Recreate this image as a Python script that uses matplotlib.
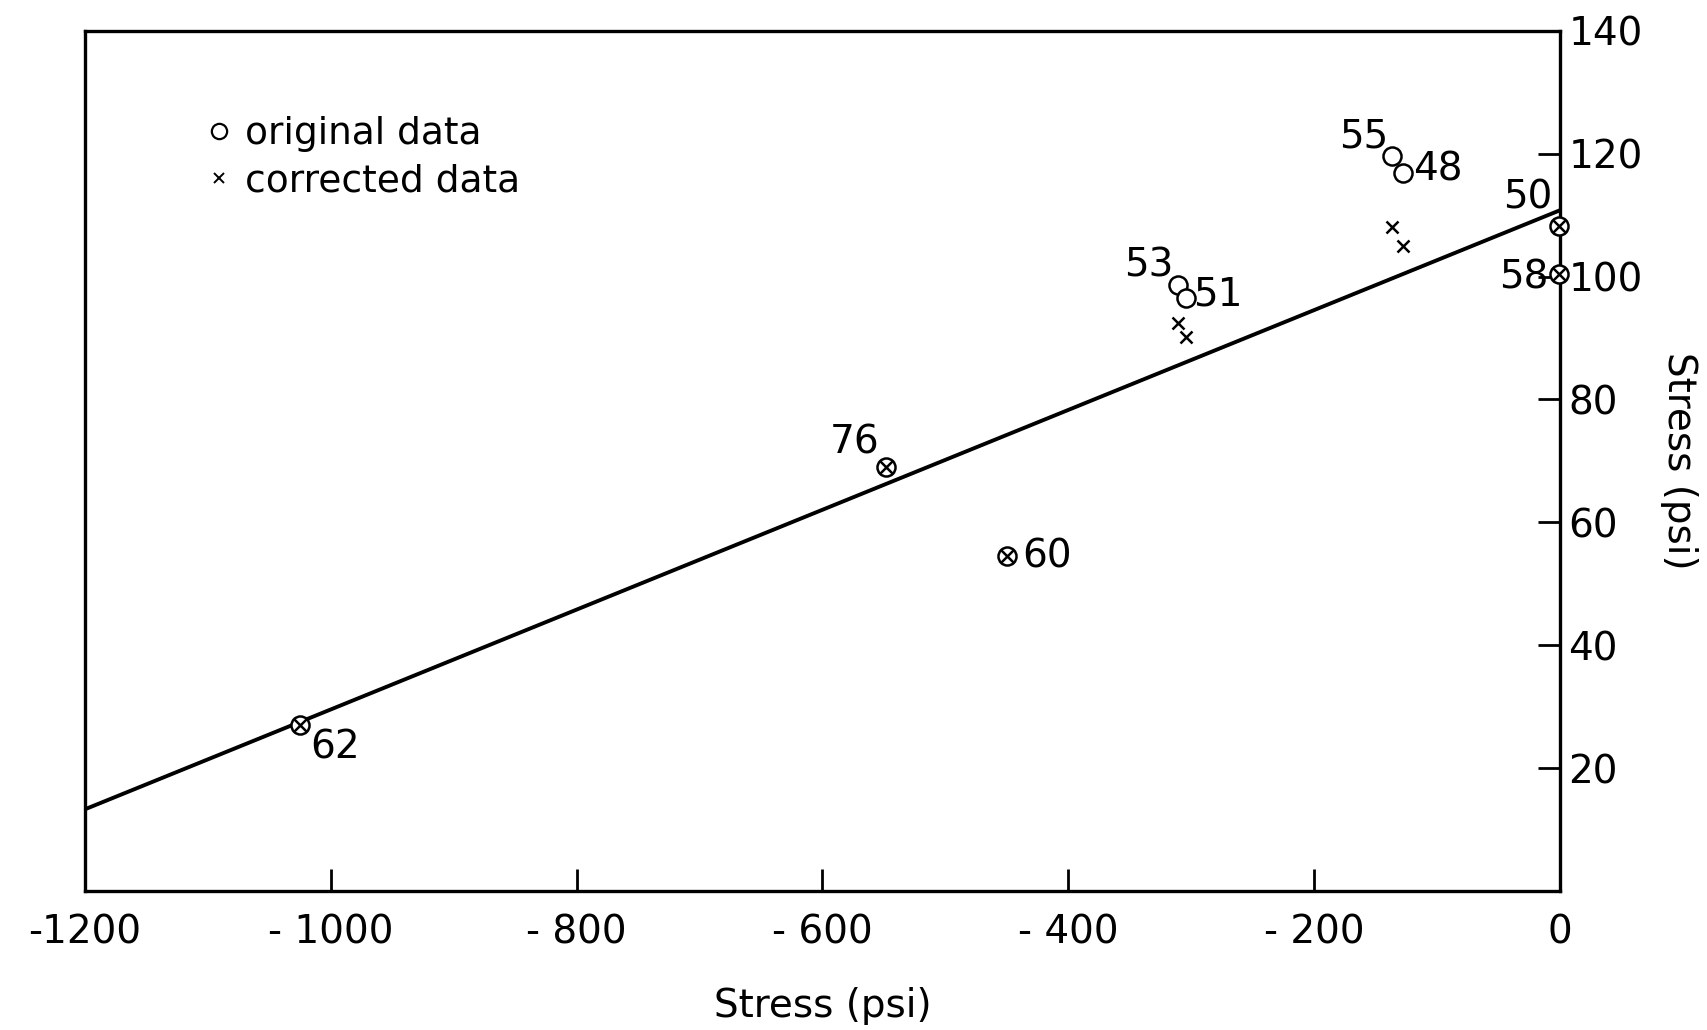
import numpy as np
import matplotlib.pyplot as plt
from matplotlib.lines import Line2D

plt.rcParams['font.family'] = ['DejaVu Sans']

# sample ids and stresses
labels = ['62', '76', '60', '53', '51', '55', '48', '50', '58']
stress_x = [-1025, -548, -450, -311, -304, -137, -128, -1, -1]
orig_y = [27, 69, 54.5, 98.6, 96.6, 119.6, 116.8, 108.3, 100.5]
corr_y = [27, 69, 54.5, 92.4, 90.1, 108.1, 105.0, 108.3, 100.5]

# fitted line end points
line_x = [-1200, 0]
line_y = [13.3, 110.8]

x_ticks = [-1200, -1000, -800, -600, -400, -200, 0]
x_ticklabels = ['-1200', '- 1000', '- 800', '- 600', '- 400', '- 200', '0']
y_ticks = [20, 40, 60, 80, 100, 120, 140]

# label offsets in points (layout only)
offsets = {'62': (25, -16), '76': (-23, 18), '60': (29, 0), '53': (-21, 14),
           '51': (23, 2), '55': (-20, 14), '48': (25, 3), '50': (-22, 20),
           '58': (-25, -3)}

fig = plt.figure(figsize=(17.08, 10.30), dpi=100)
ax = fig.add_axes([0.0498, 0.135, 0.8635, 0.835])

ax.plot(line_x, line_y, color='black', lw=2.8, zorder=2)
ax.plot(stress_x, orig_y, 'o', ms=13, mfc='white', mec='black', mew=1.8,
        clip_on=False, zorder=3)
ax.plot(stress_x, corr_y, 'x', ms=9, color='black', mew=1.8,
        clip_on=False, zorder=4)

for lab, x, y in zip(labels, stress_x, orig_y):
    dx, dy = offsets[lab]
    ax.annotate(lab, (x, y), xytext=(dx, dy), textcoords='offset points',
                ha='center', va='center', fontsize=28)

ax.set_xlim(-1200, 0)
ax.set_ylim(0, 140)
ax.set_xticks(x_ticks)
ax.set_xticklabels(x_ticklabels)
ax.set_yticks(y_ticks)
ax.yaxis.tick_right()
ax.yaxis.set_label_position('right')
ax.tick_params(axis='both', direction='in', length=16, width=2, labelsize=28)
ax.tick_params(axis='x', pad=16)
ax.tick_params(axis='y', pad=6)
for s in ax.spines.values():
    s.set_linewidth(2.4)

ax.set_xlabel('Stress (psi)', fontsize=28, labelpad=26)
ax.set_ylabel('Stress (psi)', fontsize=28, rotation=-90, labelpad=40)

handles = [Line2D([], [], ls='none', marker='o', ms=11, mfc='white', mec='black', mew=1.6),
           Line2D([], [], ls='none', marker='x', ms=7, color='black', mew=1.4)]
ax.legend(handles, ['original data', 'corrected data'], loc='upper left',
          bbox_to_anchor=(0.055, 0.94), frameon=False, fontsize=27,
          handletextpad=0.2, handlelength=1.0, labelspacing=0.3)

fig.savefig('out.png', dpi=100)
